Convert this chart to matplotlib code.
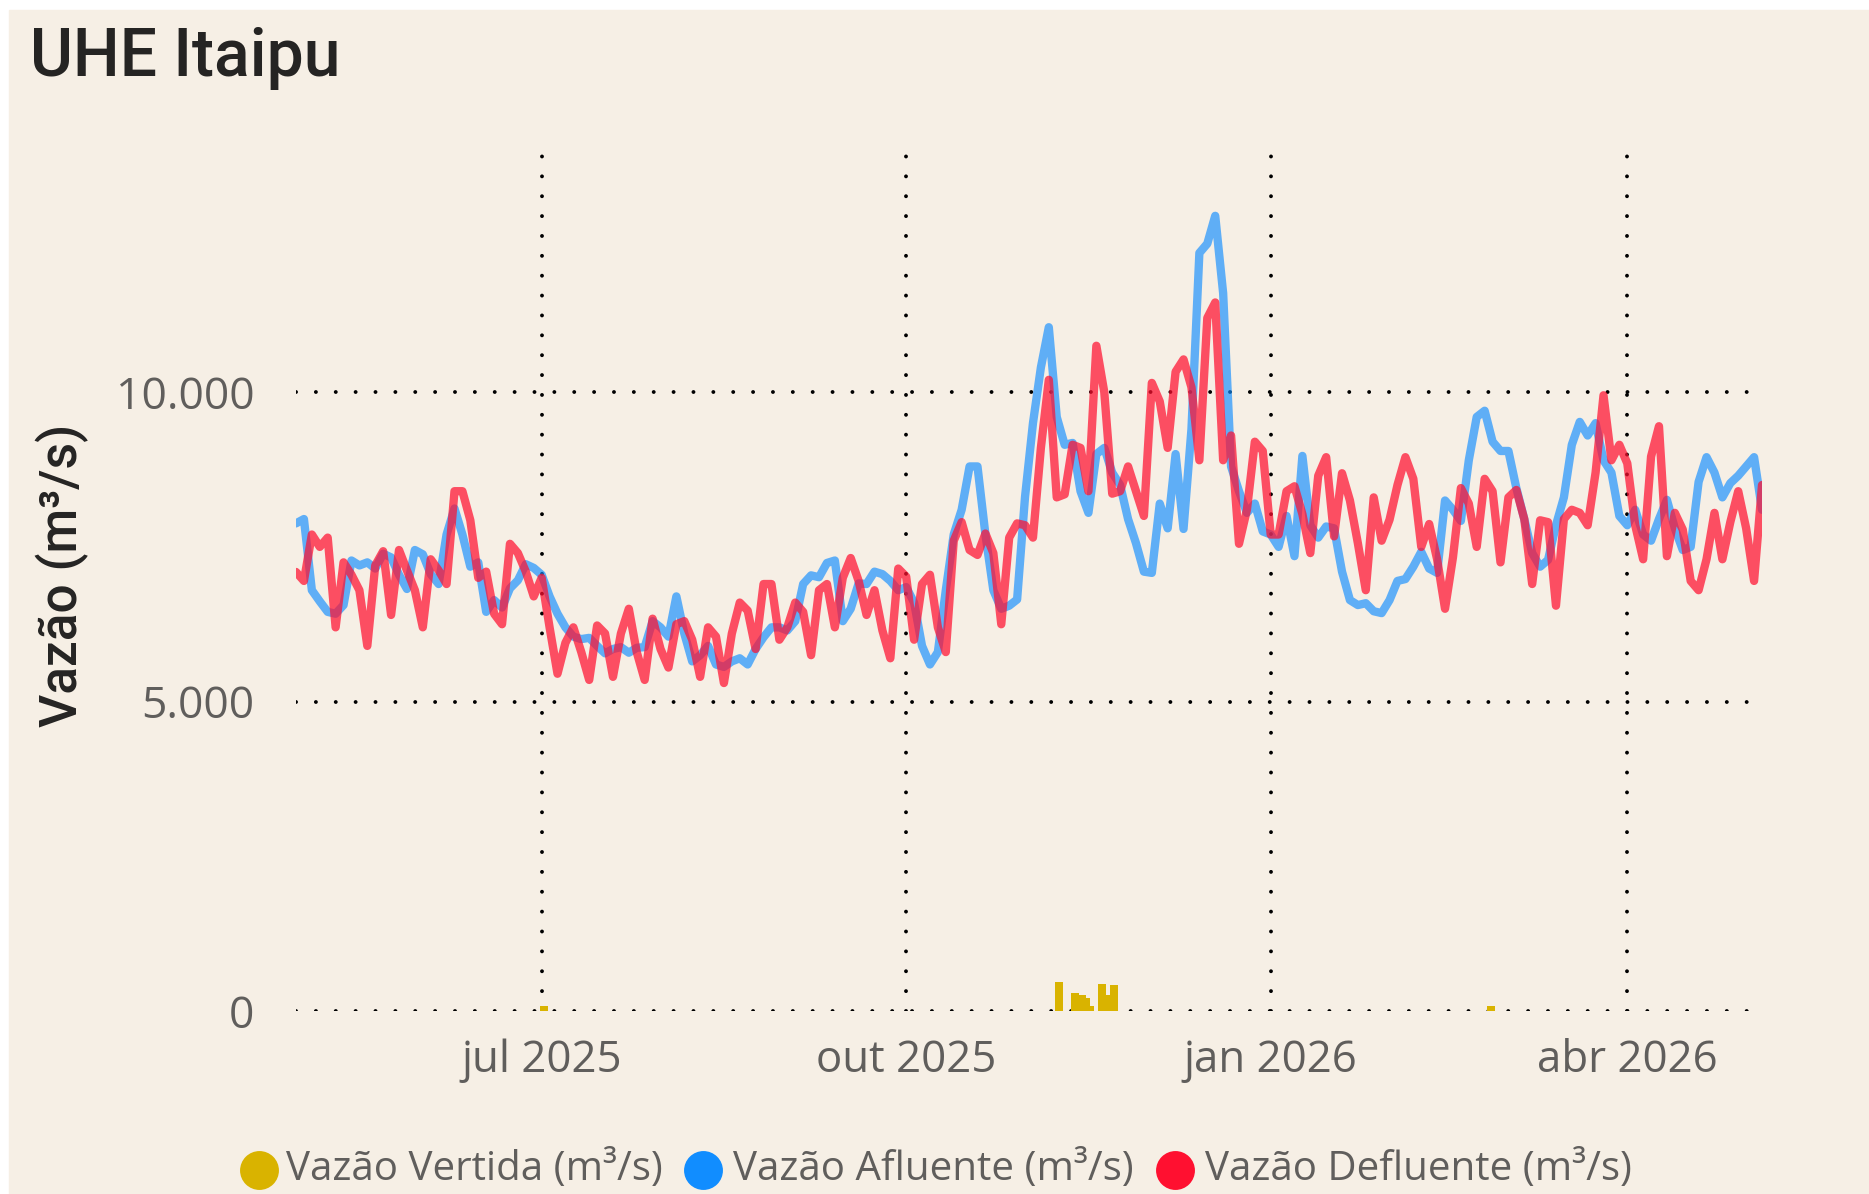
import matplotlib
matplotlib.use('Agg')
import matplotlib.pyplot as plt
from matplotlib.patches import Rectangle
from matplotlib.lines import Line2D
import pandas as pd

# Data (m3/s), one value every 2 days from 2025-04-30
start_date = '2025-04-30'
afluente = [
    7880, 7950, 6800, 6620, 6450, 6420, 6560, 7280, 7200, 7250,
    7150, 7390, 7330, 7050, 6820, 7450, 7380, 7060, 6900, 7700,
    8120, 7700, 7180, 7250, 6450, 6640, 6520, 6830, 6960, 7220,
    7160, 7050, 6700, 6420, 6200, 6050, 6010, 6030, 5900, 5780,
    5850, 5880, 5790, 5870, 5880, 6300, 6200, 6050, 6700, 6100,
    5650, 5750, 5900, 5600, 5560, 5650, 5700, 5600, 5850, 6040,
    6200, 6200, 6150, 6300, 6900, 7040, 7010, 7240, 7280, 6300,
    6500, 6910, 6900, 7100, 7060, 6950, 6800, 6850, 6600, 5900,
    5600, 5800, 6800, 7700, 8100, 8800, 8800, 7700, 6800, 6500,
    6550, 6650, 8310, 9500, 10400, 11050, 9600, 9150, 9180, 8400,
    8050, 9000, 9100, 8700, 8500, 7950, 7560, 7100, 7080, 8200,
    7800, 9000, 7790, 9400, 12250, 12400, 12850, 11600, 8800, 8400,
    8050, 8200, 7750, 7700, 7500, 8000, 7350, 8970, 7850, 7650,
    7830, 7800, 7100, 6640, 6560, 6590, 6460, 6430, 6640, 6950,
    6980, 7180, 7420, 7150, 7080, 8250, 8100, 7920, 8900, 9600,
    9700, 9200, 9050, 9050, 8450, 7950, 7400, 7180, 7290, 7850,
    8300, 9150, 9520, 9300, 9500, 8900, 8700, 8000, 7850, 8100,
    7700, 7600, 7950, 8260, 7800, 7450, 7500, 8550, 8950, 8700,
    8300, 8530, 8650, 8800, 8950, 8100,
]
defluente = [
    7095, 6950, 7700, 7500, 7650, 6200, 7250, 7050, 6800, 5900,
    7200, 7430, 6400, 7450, 7120, 6800, 6200, 7300, 7120, 6900,
    8400, 8400, 7930, 7000, 7100, 6420, 6250, 7550, 7400, 7100,
    6700, 7000, 6200, 5450, 5950, 6200, 5800, 5350, 6230, 6100,
    5400, 6100, 6500, 5800, 5350, 6340, 5850, 5550, 6250, 6300,
    6000, 5400, 6200, 6050, 5300, 6100, 6600, 6470, 5850, 6900,
    6900, 6000, 6200, 6600, 6450, 5750, 6800, 6900, 6200, 7000,
    7320, 6950, 6400, 6800, 6150, 5700, 7150, 7020, 6000, 6900,
    7050, 6200, 5800, 7600, 7900, 7450, 7370, 7716, 7400, 6250,
    7650, 7880, 7850, 7650, 9100, 10200, 8300, 8350, 9150, 9100,
    8400, 10750, 10000, 8360, 8400, 8800, 8400, 8000, 10150, 9850,
    9100, 10330, 10530, 10080, 8900, 11200, 11450, 8900, 9300, 7550,
    8100, 9200, 9050, 7700, 7700, 8400, 8480, 8030, 7400, 8650,
    8950, 7670, 8690, 8250, 7560, 6800, 8300, 7600, 7940, 8500,
    8950, 8600, 7500, 7870, 7300, 6500, 7330, 8450, 8200, 7500,
    8600, 8400, 7250, 8300, 8420, 7950, 6900, 7930, 7900, 6550,
    7950, 8100, 8050, 7850, 8700, 9950, 8900, 9150, 8850, 7850,
    7300, 8960, 9450, 7350, 8050, 7780, 6950, 6800, 7300, 8050,
    7300, 7900, 8400, 7800, 6950, 8500,
]
vertida_dates = ['2025-07-01', '2025-07-02', '2025-11-08', '2025-11-09',
                 '2025-11-12', '2025-11-13', '2025-11-14', '2025-11-15',
                 '2025-11-16', '2025-11-17', '2025-11-19', '2025-11-20',
                 '2025-11-21', '2025-11-22', '2025-11-23', '2026-02-25',
                 '2026-02-26']
vertida = [80, 80, 469, 469, 296, 296, 258, 258, 210, 81, 436, 436, 264,
           425, 425, 75, 75]

tick_dates = ['2025-07-01', '2025-10-01', '2026-01-01', '2026-04-01']
tick_labels = ['jul 2025', 'out 2025', 'jan 2026', 'abr 2026']
y_ticks = [0, 5000, 10000]
y_tick_labels = ['0', '5.000', '10.000']

# Style
bg = '#F6EFE5'
c_vert = '#D9B300'
c_aflu = '#118DFF'
c_deflu = '#FF1030'
text_gray = '#605E5C'
title_color = '#252423'
W, H = 1869, 1194

dates = pd.date_range(start_date, periods=len(afluente), freq='2D')
vdates = pd.to_datetime(vertida_dates)

fig = plt.figure(figsize=(W / 100, H / 100), dpi=100, facecolor='white')
fig.patches.append(Rectangle((9 / W, 0), 1 - 9 / W, 1 - 10 / H,
                             transform=fig.transFigure, color=bg, zorder=-5))

ax = fig.add_axes([296 / W, 1 - 1011 / H, (1762 - 296) / W, (1011 - 149) / H])
ax.set_facecolor('none')

ax.bar(vdates, vertida, width=1.0, color=c_vert, zorder=2)
ax.plot(dates, afluente, color=c_aflu, alpha=0.66, lw=6.0, zorder=3,
        solid_joinstyle='round', solid_capstyle='round')
ax.plot(dates, defluente, color=c_deflu, alpha=0.72, lw=6.0, zorder=4,
        solid_joinstyle='round', solid_capstyle='round')

ax.set_xlim(dates[0], dates[-1])
ax.set_ylim(0, 13930)

grid_kw = dict(color='black', lw=2.8, linestyle=(0, (0.01, 5.1)),
               dash_capstyle='round', zorder=1)
for yv in y_ticks:
    ax.axhline(yv, **grid_kw)
for d in tick_dates:
    ax.axvline(pd.Timestamp(d), **grid_kw)

for s in ax.spines.values():
    s.set_visible(False)

ax.set_yticks(y_ticks)
ax.set_yticklabels(y_tick_labels, fontfamily='Open Sans', fontsize=32,
                   color=text_gray)
ax.set_xticks(pd.to_datetime(tick_dates))
ax.set_xticklabels(tick_labels, fontfamily='Open Sans', fontsize=31.5,
                   color=text_gray)
ax.tick_params(axis='y', length=0, pad=30)
ax.tick_params(axis='x', length=0, pad=20)

# Title and axis label
fig.text(30 / W, 1 - 76 / H, 'UHE Itaipu', fontfamily='Roboto', fontsize=47.5,
         fontweight='medium', color=title_color, ha='left', va='baseline')
fig.text(62 / W, 1 - 575 / H, 'Vazão (m³/s)', fontfamily='Roboto',
         fontsize=37, fontweight='medium', color=title_color, rotation=90,
         ha='center', va='center')

# Legend
legend_items = [('Vazão Vertida (m³/s)', c_vert, 259, 286),
                ('Vazão Afluente (m³/s)', c_aflu, 703, 733),
                ('Vazão Defluente (m³/s)', c_deflu, 1175, 1205)]
ly = 1 - 1170 / H
for label, col, mx, tx in legend_items:
    fig.add_artist(Line2D([mx / W], [ly], marker='o', markersize=28,
                          color=col, markeredgewidth=0, linestyle='none',
                          transform=fig.transFigure))
    fig.text(tx / W, ly, label, fontfamily='Open Sans', fontsize=29,
             color=text_gray, ha='left', va='center')

fig.savefig('out.png', dpi=100, facecolor='white')
